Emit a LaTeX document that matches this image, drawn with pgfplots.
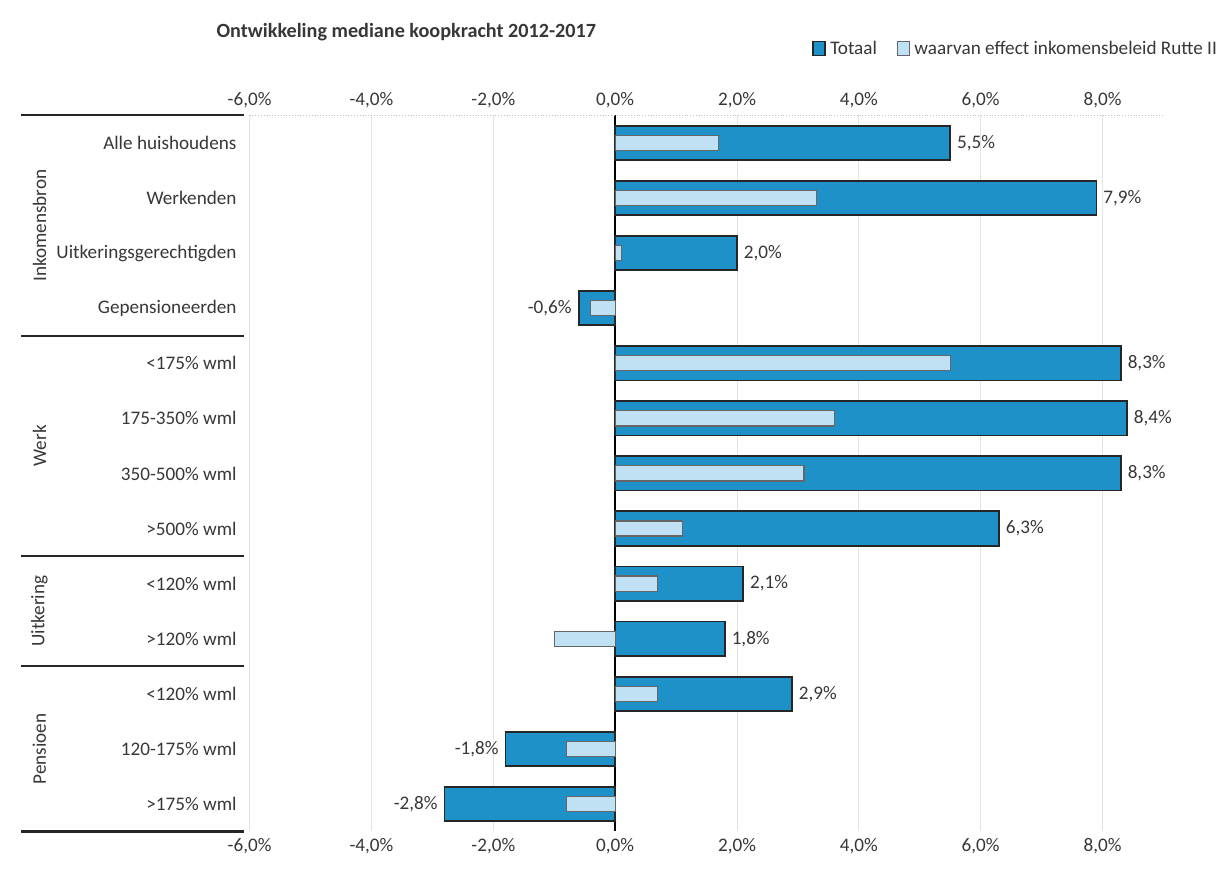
\documentclass[border=0pt]{standalone}
\usepackage{fontspec}
\setmainfont{Carlito}
\usepackage{pgfplots}
\usepackage{pgfplotstable}
\pgfplotsset{compat=1.18}
\definecolor{totaal}{RGB}{30,146,200}
\definecolor{effect}{RGB}{192,225,243}
\definecolor{txt}{RGB}{55,55,55}

% idx = category row, totaal and effect in %
\pgfplotstableread{
idx totaal effect
0   5.5    1.7
1   7.9    3.3
2   2.0    0.1
3  -0.6   -0.4
4   8.3    5.5
5   8.4    3.6
6   8.3    3.1
7   6.3    1.1
8   2.1    0.7
9   1.8   -1.0
10  2.9    0.7
11 -1.8   -0.8
12 -2.8   -0.8
}\koop

\pgfplotsset{
  koopbase/.style={
    scale only axis, width=453pt, height=355pt,
    xmin=-6, xmax=9, ymin=-0.5, ymax=12.5, y dir=reverse,
    xtick={-6,-4,...,8},
    xticklabel={\pgfmathprintnumber[fixed,fixed zerofill,precision=1,use comma]{\tick}\%},
    /pgf/number format/assume math mode=true,
    axis line style={draw=none},
    major tick length=0pt,
    tick label style={font=\fontsize{9.5}{11}\selectfont, text=txt},
  }
}

\begin{document}
\begin{tikzpicture}
\begin{axis}[koopbase, name=main,
  xbar, bar shift=0pt,
  ytick={0,...,12},
  yticklabels={Alle huishoudens, Werkenden, Uitkeringsgerechtigden, Gepensioneerden,
    <175\% wml, 175-350\% wml, 350-500\% wml, >500\% wml,
    <120\% wml, >120\% wml, <120\% wml, 120-175\% wml, >175\% wml},
  yticklabel style={xshift=-3pt},
  xmajorgrids, grid style={gray!22},
  extra x ticks={0}, extra x tick labels={},
  extra x tick style={grid style={black, thick}},
  extra y ticks={-0.5}, extra y tick labels={},
  extra y tick style={ymajorgrids, grid style={gray!50, densely dotted}},
  clip=false,
  legend columns=2,
  legend style={draw=none, at={(1.07,1.092)}, anchor=east,
    font=\fontsize{9.5}{11}\selectfont, text=txt,
    /tikz/every even column/.append style={column sep=8pt}},
  legend image code/.code={\draw[#1] (0pt,-3pt) rectangle (6pt,4pt);},
  title={Ontwikkeling mediane koopkracht 2012-2017},
  title style={at={(-0.044,1.10)}, anchor=west, font=\bfseries\fontsize{10}{12}\selectfont, text=txt},
]
\addplot[fill=totaal, draw=black!85, line width=0.9pt, bar width=17pt,
  point meta=x,
  nodes near coords={\pgfmathprintnumber[fixed,fixed zerofill,precision=1,use comma]{\pgfplotspointmeta}\%},
  nodes near coords align={horizontal},
  every node near coord/.append style={font=\fontsize{9.5}{11}\selectfont, text=txt, inner sep=3pt}]
  table[x=totaal, y=idx] {\koop};
\addlegendentry{Totaal}
\addplot[fill=effect, draw=black!60, line width=0.6pt, bar width=7.5pt]
  table[x=effect, y=idx] {\koop};
\addlegendentry{waarvan effect inkomensbeleid Rutte II}

\draw[black!85, line width=1pt] (axis cs:-9.75,-0.5) -- (axis cs:-6.1,-0.5);
\draw[black!85, line width=1pt] (axis cs:-9.75,3.5) -- (axis cs:-6.1,3.5);
\draw[black!85, line width=1pt] (axis cs:-9.75,7.5) -- (axis cs:-6.1,7.5);
\draw[black!85, line width=1pt] (axis cs:-9.75,9.5) -- (axis cs:-6.1,9.5);
\draw[black!85, line width=1pt] (axis cs:-9.75,12.5) -- (axis cs:-6.1,12.5);
\node[rotate=90, font=\fontsize{9.5}{11}\selectfont, text=txt] at (axis cs:-9.45,1.5) {Inkomensbron};
\node[rotate=90, font=\fontsize{9.5}{11}\selectfont, text=txt] at (axis cs:-9.45,5.5) {Werk};
\node[rotate=90, font=\fontsize{9.5}{11}\selectfont, text=txt] at (axis cs:-9.45,8.5) {Uitkering};
\node[rotate=90, font=\fontsize{9.5}{11}\selectfont, text=txt] at (axis cs:-9.45,11) {Pensioen};
\end{axis}
\begin{axis}[koopbase, axis x line*=top, hide y axis, ytick=\empty]
\end{axis}
% white margin as in the scan
\path (current bounding box.south west) ++(-10pt,-8pt);
\path (current bounding box.north east) ++(0pt,8pt);
\end{tikzpicture}
\end{document}
